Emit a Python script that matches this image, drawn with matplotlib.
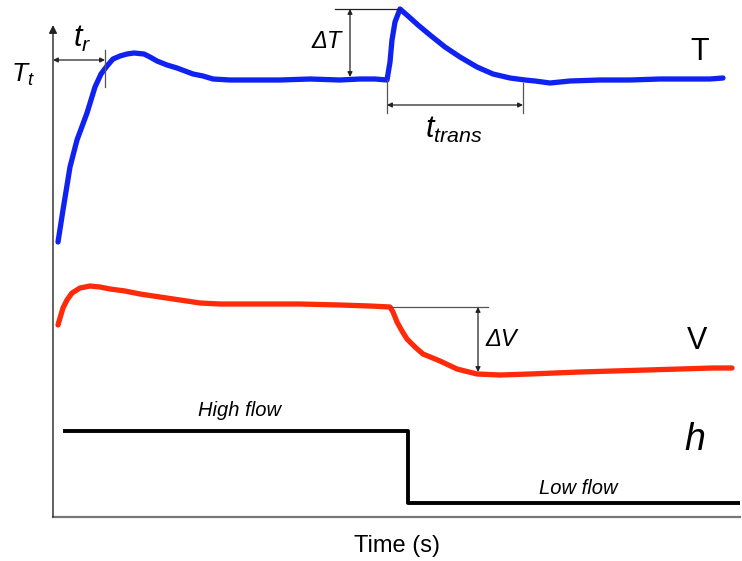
import matplotlib
matplotlib.use("Agg")
import matplotlib.pyplot as plt

plt.rcParams["font.family"] = ["Liberation Sans", "DejaVu Sans"]
plt.rcParams["mathtext.fontset"] = "custom"
plt.rcParams["mathtext.rm"] = "Liberation Sans"
plt.rcParams["mathtext.it"] = "Liberation Sans:italic"

# temperature response T (time units, signal units)
T_TIME = [5, 10, 17, 24, 34, 42, 48, 54, 60, 67, 74, 81, 91, 97, 104, 114, 124, 132,
          140, 150, 160, 177, 197, 227, 257, 287, 307, 322, 334, 337, 339, 342, 347,
          355, 365, 377, 392, 407, 424, 440, 457, 472, 482, 497, 517, 547, 577, 607,
          637, 657, 670]
T_VALUE = [275, 307, 350, 377, 404, 430, 443, 451, 458, 461, 463, 464, 463, 460, 456,
           452, 449, 446, 443, 441, 438, 437, 437, 437, 438, 437, 438, 438, 437, 455,
           477, 495, 508, 501, 492, 482, 470, 460, 450, 443, 439, 437, 436, 434, 436,
           437, 437, 438, 438, 438, 439]

# voltage response V
V_TIME = [5, 7, 10, 14, 19, 27, 37, 47, 57, 72, 87, 107, 127, 147, 167, 207, 247, 287,
          317, 337, 340, 344, 349, 354, 362, 370, 387, 404, 424, 447, 477, 527, 594,
          660, 679]
V_VALUE = [192, 199, 209, 217, 224, 229, 231, 230, 228, 226, 223, 220, 217, 214, 213,
           213, 213, 212, 211, 210, 205, 195, 186, 178, 170, 163, 156, 148, 143, 142,
           143, 145, 147, 149, 149]

# flow step h
H_TIME = [12, 355, 687]
H_VALUE = [86, 14, 14]

# annotation levels
TR_END, TR_Y = 52, 457
DT_X, DT_TOP, DT_BASE = 297, 508, 440
TTR_START, TTR_END, TTR_Y = 334, 470, 412
DV_X, DV_TOP, DV_BOTTOM = 425, 210, 145

BLUE = "#0f22f2"
RED = "#ff2a0a"
INK = "#222222"

fig = plt.figure(figsize=(7.42, 5.61), dpi=100)
ax = fig.add_axes([53 / 742, 44 / 561, 687 / 742, 517 / 561])
ax.set_xlim(0, 687)
ax.set_ylim(0, 517)

ax.plot(T_TIME, T_VALUE, color=BLUE, linewidth=3.8, solid_capstyle="round",
        solid_joinstyle="round")
ax.plot(V_TIME, V_VALUE, color=RED, linewidth=3.8, solid_capstyle="round",
        solid_joinstyle="round")
ax.plot(H_TIME, H_VALUE, color="black", linewidth=2.8, drawstyle="steps-post")

for side in ("top", "right", "left"):
    ax.spines[side].set_visible(False)
ax.spines["bottom"].set_color("#777777")
ax.spines["bottom"].set_linewidth(1.6)
ax.set_xticks([])
ax.set_yticks([])
ax.annotate("", xy=(0, 492), xytext=(0, 0),
            arrowprops=dict(arrowstyle="-|>", color=INK, lw=1.0, mutation_scale=12,
                            shrinkA=0, shrinkB=0))

both = dict(arrowstyle="<|-|>", color=INK, lw=0.9, mutation_scale=7,
            shrinkA=0, shrinkB=0)

# rise time
ax.annotate("", xy=(TR_END, TR_Y), xytext=(0, TR_Y), arrowprops=both)
ax.plot([TR_END, TR_END], [TR_Y + 10, TR_Y - 27], color="#555555", lw=0.9)
ax.text(29, 478, r"$t_r$", fontsize=22, ha="center", va="center")

# overshoot
ax.plot([DT_X - 15, 347], [DT_TOP, DT_TOP], color=INK, lw=0.9)
ax.annotate("", xy=(DT_X, DT_TOP), xytext=(DT_X, DT_BASE), arrowprops=both)
ax.text(274, 475, "ΔT", fontsize=17, style="italic", ha="center", va="center")

# transient time
ax.plot([TTR_START, TTR_START], [437, TTR_Y - 8], color="#555555", lw=0.9)
ax.plot([TTR_END, TTR_END], [434, TTR_Y - 8], color="#555555", lw=0.9)
ax.annotate("", xy=(TTR_END, TTR_Y), xytext=(TTR_START, TTR_Y), arrowprops=both)
ax.text(401, 387, r"$t_{trans}$", fontsize=22, ha="center", va="center")

# voltage drop
ax.plot([337, DV_X + 10], [DV_TOP, DV_TOP], color="#555555", lw=0.9)
ax.annotate("", xy=(DV_X, DV_BOTTOM), xytext=(DV_X, DV_TOP), arrowprops=both)
ax.text(432, 177, "ΔV", fontsize=17, style="italic", ha="left", va="center")

# curve labels
ax.text(647, 465, "T", fontsize=22, ha="center", va="center")
ax.text(644, 176, "V", fontsize=22, ha="center", va="center")
ax.text(642, 77, r"$h$", fontsize=27, ha="center", va="center")
ax.text(187, 107, "High flow", fontsize=14.5, style="italic", ha="center", va="center")
ax.text(525, 29, "Low flow", fontsize=14.5, style="italic", ha="center", va="center")
ax.text(-30, 442, r"$T_t$", fontsize=19, ha="center", va="center")

ax.set_xlabel("Time (s)", fontsize=17, labelpad=13)

fig.savefig("out.png", dpi=100)
